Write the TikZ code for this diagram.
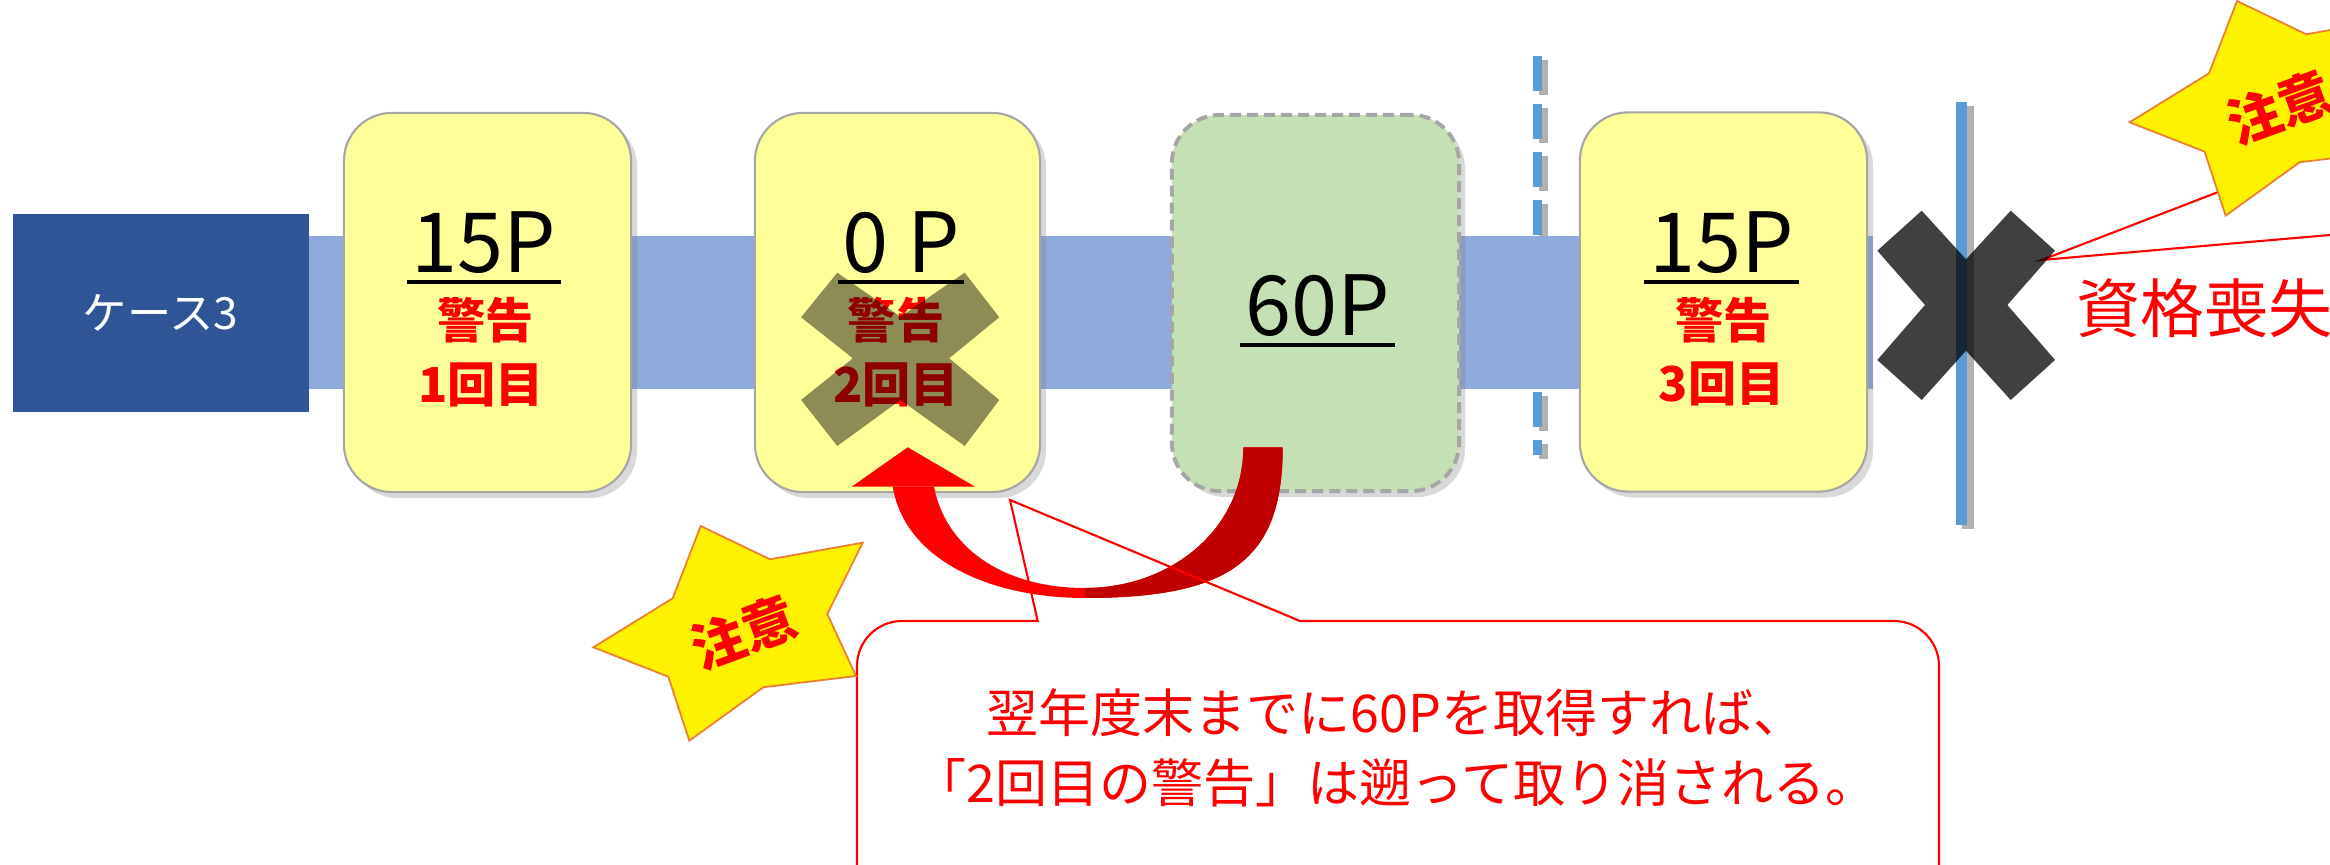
\documentclass[tikz,border=0pt]{standalone}
\usepackage{fontspec}
\setmainfont{Noto Sans CJK JP}
\usetikzlibrary{shadows}
\definecolor{casenavy}{HTML}{2F5597}
\definecolor{bandblue}{HTML}{8FAADC}
\definecolor{cardyellow}{HTML}{FFFF99}
\definecolor{cardgreen}{HTML}{C5E0B4}
\definecolor{cardedge}{HTML}{A6A6A6}
\definecolor{lineblue}{HTML}{5B9BD5}
\definecolor{darkred}{HTML}{C00000}
\definecolor{starline}{HTML}{ED7D31}
\tikzset{every node/.style={inner sep=0pt}}
\tikzset{card/.style={rectangle,rounded corners=0.48cm,draw=cardedge,line width=0.6pt,fill=cardyellow,minimum width=2.87cm,minimum height=3.79cm,drop shadow={shadow xshift=0.06cm,shadow yshift=-0.06cm,opacity=0.3}}}
\tikzset{gain/.style={card,fill=cardgreen,line width=1.1pt,dash pattern=on 0.11cm off 0.06cm,minimum height=3.76cm}}
\tikzset{casebox/.style={rectangle,fill=casenavy,text=white,minimum width=2.96cm,minimum height=1.98cm,font=\fontsize{12.6}{14}\selectfont}}
\tikzset{pts/.style={font=\fontsize{23.6}{28}\selectfont,inner xsep=0.04cm}}
\tikzset{ul/.style={line width=0.045cm}}
\tikzset{warn/.style={text=red,font=\fontsize{13.7}{16}\selectfont\bfseries}}
\tikzset{cross/.style={fill=black,fill opacity=0.45}}
\tikzset{kill/.style={fill=black,fill opacity=0.75}}
\tikzset{caution/.style={fill=yellow,draw=starline,line width=0.5pt}}
\tikzset{callout/.style={draw=red,line width=0.6pt}}
\tikzset{note/.style={text=red,align=center,font=\fontsize{14.8}{19.9}\selectfont}}

\begin{document}
\begin{tikzpicture}[x=0.01cm,y=-0.01cm]
  \useasboundingbox (0,0) rectangle (2330,865);
  % time line
  \draw[black!30,line width=0.09cm,dash pattern=on 0.35cm off 0.13cm] (1543,60) -- (1543,459);
  \draw[lineblue,line width=0.09cm,dash pattern=on 0.35cm off 0.13cm] (1537,56) -- (1537,455);
  \fill[bandblue] (300,236) rectangle (1873,389);
  \node[casebox] (case) at (160.6,313) {ケース3};
  \node[card] (c1) at (487.5,302.5) {};
  \node[card,minimum width=2.85cm] (c2) at (897.5,302.5) {};
  \node[gain] (c3) at (1315.5,303) {};
  \node[card] (c4) at (1723.5,302) {};
  % points and warnings
  \node[pts,anchor=base] (p1) at (484,273) {15P};
  \draw[ul] ([yshift=-0.09cm]p1.base west) -- ([yshift=-0.09cm]p1.base east);
  \node[warn,anchor=base] (w1) at (485.5,339) {警告};
  \node[warn,anchor=base] (n1) at (481,403) {1回目};
  \node[pts,anchor=base] (p2) at (901,273) {0 P};
  \draw[ul] ([yshift=-0.09cm]p2.base west) -- ([yshift=-0.09cm]p2.base east);
  \node[warn,anchor=base] (w2) at (896,339) {警告};
  \node[warn,anchor=base] (n2) at (896,403) {2回目};
  \node[pts,anchor=base] (p3) at (1317.5,336) {60P};
  \draw[ul] ([yshift=-0.09cm]p3.base west) -- ([yshift=-0.09cm]p3.base east);
  \node[pts,anchor=base] (p4) at (1721.5,273) {15P};
  \draw[ul] ([yshift=-0.09cm]p4.base west) -- ([yshift=-0.09cm]p4.base east);
  \node[warn,anchor=base] (w4) at (1723.5,339) {警告};
  \node[warn,anchor=base] (n4) at (1721.5,402) {3回目};
  \fill[cross] (837.3,272.7) -- (900.4,316.7) -- (964.7,272.7) -- (999.2,317.3) -- (949.2,358.3) -- (999.2,400)
    -- (964.7,446) -- (900.4,400) -- (837.3,446) -- (801.1,400) -- (852.8,358.3) -- (801.1,317.3) -- cycle;
  % loss of status
  \coordinate (tip) at (2041.7,260);
  \coordinate (far1) at (2330,149);
  \coordinate (far2) at (2330,235);
  \draw[callout] (far1) -- (tip) -- (far2);
  \draw[black!30,line width=0.117cm] (1968,106) -- (1968,529);
  \draw[lineblue,line width=0.117cm] (1961.5,102) -- (1961.5,525);
  \fill[kill] (1921.7,210.7) -- (1966,259.3) -- (2010.7,210.7) -- (2055,250.7) -- (2007.3,305) -- (2055,360)
    -- (2010.7,400) -- (1966,350.7) -- (1921.7,400) -- (1877.3,360) -- (1925,305) -- (1877.3,250.7) -- cycle;
  \node[text=red,anchor=base west,font=\fontsize{18.2}{22}\selectfont] (lose) at (2076,333) {資格喪失};
  % curved arrow back to the 2nd warning
  \fill[red] (892.7,486.7) .. controls (905,560) and (990,598) .. (1085,598)
    .. controls (1230,598) and (1282.7,560) .. (1282.7,447.3) -- (1243.3,447.3)
    .. controls (1243.3,530) and (1170,588) .. (1085,588)
    .. controls (1000,588) and (945,545) .. (934,486.7) -- cycle;
  \fill[darkred] (1085,598) .. controls (1230,598) and (1282.7,560) .. (1282.7,447.3) -- (1243.3,447.3)
    .. controls (1243.3,530) and (1170,588) .. (1085,588) -- cycle;
  \fill[red] (907.7,447.3) -- (851.7,486.7) -- (975,486.7) -- cycle;
  % speech bubble
  \draw[callout] (1037.7,621) -- (1010,500) -- (1300,621) -- (1894,621) .. controls (1918.8,621) and (1939,641.2) .. (1939,666)
    -- (1939,930) -- (857,930) -- (857,666) .. controls (857,641.2) and (877.2,621) .. (902,621) -- cycle;
  \node[note] (note) at (1396,748) {翌年度末までに60Pを取得すれば、\\「2回目の警告」は遡って取り消される。};
  % caution stars
  \foreach \dx/\dy [count=\i] in {0/0,1536.3/-525} {
    \begin{scope}[shift={(\dx,\dy)}]
      \filldraw[caution] (700.7,526) -- (770,559.3) -- (862.7,542.7) -- (827.3,614) -- (856,676) -- (763.3,687.3)
        -- (689.3,740.7) -- (668.3,676.7) -- (593.3,647.3) -- (672.7,598.3) -- cycle;
      \node[text=red,rotate=20,font=\fontsize{15.2}{17}\selectfont\bfseries] (caution\i) at (743.3,632.5) {注意};
    \end{scope}
  }
\end{tikzpicture}
\end{document}
